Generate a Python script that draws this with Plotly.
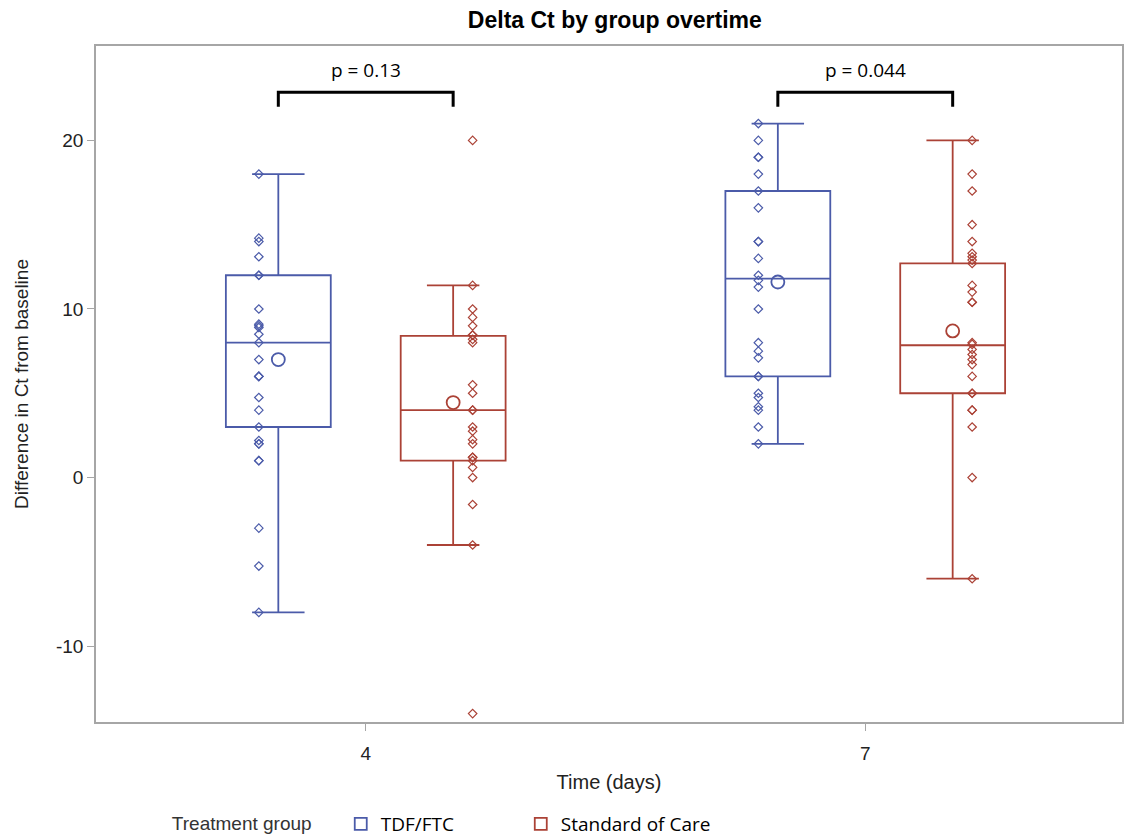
import plotly.graph_objects as go

# ---------------- data ----------------
days = ["4", "7"]
groups = ["TDF/FTC", "Standard of Care"]

tdf_day4 = [18, 14.2, 14.0, 13.1, 12, 12, 10, 9.1, 9.0, 8.9, 8.5, 8, 7, 6, 6, 6,
            4.75, 4, 3, 2.2, 2, 2, 1, 1, -3, -5.25, -8]
soc_day4 = [20, 11.4, 10, 9.5, 9, 8.45, 8.45, 8.2, 8.0, 5.5, 5.0, 4, 4, 3.0, 2.75,
            2.25, 2.0, 1.2, 1.2, 1.0, 0.6, 0, -1.6, -4, -14]
tdf_day7 = [21, 20, 19, 19, 18, 17, 16, 14, 14, 13, 12, 11.7, 11.3, 10, 8, 7.5,
            7.1, 6, 6, 5, 4.75, 4.2, 4.0, 3, 2]
soc_day7 = [20, 18, 17, 15, 14, 13.3, 13.1, 12.9, 12.7, 11.4, 11.0, 10.4, 10.4, 8,
            7.9, 7.6, 7.3, 7.0, 6.7, 6, 5, 5, 4, 4, 3, 0, -6]

tdf_q1 = [3, 6]
tdf_median = [8, 11.8]
tdf_q3 = [12, 17]
tdf_lower = [-8, 2]
tdf_upper = [18, 21]
tdf_mean = [7.0, 11.6]

soc_q1 = [1.0, 5.0]
soc_median = [4.0, 7.85]
soc_q3 = [8.4, 12.7]
soc_lower = [-4, -6]
soc_upper = [11.4, 20]
soc_mean = [4.45, 8.7]

y_tickvals = [-10, 0, 10, 20]
y_ticktext = ["-10", "0", "10", "20"]

p_labels = ["p = 0.13", "p = 0.044"]

# ---------------- styling / geometry ----------------
BLUE = "#4b5ba9"
RED = "#ab4236"
GROUP_OFFSET = 0.175   # box centre distance from category centre
BOX_WIDTH = 0.21
POINT_SHIFT = 0.039    # scatter column offset from box centre
AXIS_GRAY = "#a6a6a6"
ARIAL = "Liberation Sans, Arial, sans-serif"
CALIBRI = "Open Sans, sans-serif"

cat_pos = list(range(len(days)))

series = [
    dict(name=groups[0], color=BLUE, sign=-1, pts=[tdf_day4, tdf_day7], legend="legend",
         q1=tdf_q1, med=tdf_median, q3=tdf_q3, lo=tdf_lower, hi=tdf_upper, mean=tdf_mean),
    dict(name=groups[1], color=RED, sign=1, pts=[soc_day4, soc_day7], legend="legend2",
         q1=soc_q1, med=soc_median, q3=soc_q3, lo=soc_lower, hi=soc_upper, mean=soc_mean),
]

fig = go.Figure()

for s in series:
    centres = [c + s["sign"] * GROUP_OFFSET for c in cat_pos]
    fig.add_trace(go.Box(
        name=s["name"], x=centres,
        q1=s["q1"], median=s["med"], q3=s["q3"],
        lowerfence=s["lo"], upperfence=s["hi"],
        width=BOX_WIDTH, whiskerwidth=0.5,
        boxpoints=False,
        line=dict(color=s["color"], width=1.8),
        fillcolor="rgba(0,0,0,0)",
        showlegend=True, legend=s["legend"], hoverinfo="skip",
    ))
    # individual observations: blue column left of its box, red column right
    xs, ys = [], []
    for c, vals in zip(centres, s["pts"]):
        xs += [c + s["sign"] * POINT_SHIFT] * len(vals)
        ys += vals
    fig.add_trace(go.Scatter(
        x=xs, y=ys, mode="markers", showlegend=False, hoverinfo="skip",
        marker=dict(symbol="diamond-open", size=6.5, color=s["color"],
                    line=dict(width=1.2, color=s["color"])),
    ))
    # means
    fig.add_trace(go.Scatter(
        x=centres, y=s["mean"], mode="markers", showlegend=False, hoverinfo="skip",
        marker=dict(symbol="circle-open", size=13, color=s["color"],
                    line=dict(width=1.8, color=s["color"])),
    ))

# p-value brackets
BR_TOP = 22.85
BR_BOT = 22.0
TXT_Y = 24.2
for c, lab in zip(cat_pos, p_labels):
    x0 = c - GROUP_OFFSET
    x1 = c + GROUP_OFFSET
    fig.add_shape(type="path",
                  path=f"M {x0} {BR_BOT} L {x0} {BR_TOP} L {x1} {BR_TOP} L {x1} {BR_BOT}",
                  xref="x", yref="y", line=dict(color="black", width=3))
    fig.add_annotation(x=c, y=TXT_Y, xref="x", yref="y", text=lab, showarrow=False,
                       font=dict(family=CALIBRI, size=19, color="black"))

LEGEND_Y = 1 - 824 / 839

fig.update_layout(
    width=1124, height=839,
    margin=dict(l=96, r=2, t=46, b=117, autoexpand=False),
    paper_bgcolor="white", plot_bgcolor="white",
    boxmode="overlay",
    title=dict(text="<b>Delta Ct by group overtime</b>", x=0.547, xanchor="center",
               y=1 - 20 / 839, yanchor="middle", yref="container",
               font=dict(family=ARIAL, size=23, color="black")),
    xaxis=dict(range=[-0.54, 1.514], tickvals=cat_pos, ticktext=days,
               showline=True, linecolor=AXIS_GRAY, linewidth=1.5, mirror=True,
               ticks="outside", ticklen=7, tickcolor=AXIS_GRAY, ticklabelstandoff=6,
               showgrid=False, zeroline=False, automargin=False,
               tickfont=dict(family=ARIAL, size=19, color="#222"),
               title=dict(text="Time (days)", standoff=12,
                          font=dict(family=ARIAL, size=20, color="#222"))),
    yaxis=dict(range=[-14.5, 25.6], tickvals=y_tickvals, ticktext=y_ticktext,
               showline=True, linecolor=AXIS_GRAY, linewidth=1.5, mirror=True,
               ticks="outside", ticklen=7, tickcolor=AXIS_GRAY,
               showgrid=False, zeroline=False, automargin=False,
               tickfont=dict(family=ARIAL, size=19, color="#222"),
               title=dict(text="Difference in Ct from baseline", standoff=22,
                          font=dict(family=ARIAL, size=19, color="#222"))),
    legend=dict(orientation="h", x=0.072, xanchor="left",
                y=LEGEND_Y, yanchor="middle", yref="container",
                title=dict(text="Treatment group    ", side="left",
                           font=dict(family=ARIAL, size=19, color="#333")),
                font=dict(family=CALIBRI, size=19, color="black"),
                bgcolor="rgba(0,0,0,0)"),
    legend2=dict(orientation="h", x=0.414, xanchor="left",
                 y=LEGEND_Y, yanchor="middle", yref="container",
                 font=dict(family=CALIBRI, size=19, color="black"),
                 bgcolor="rgba(0,0,0,0)"),
)

# remove the browser's default 8px page margin so the figure fills the window exactly
fig.write_html("out.html", config={"displayModeBar": False},
               post_script="document.body.style.margin='0';")
